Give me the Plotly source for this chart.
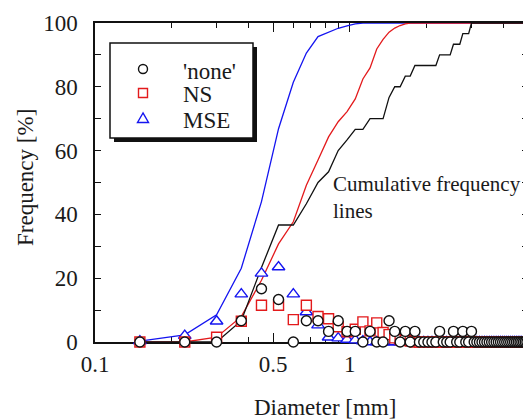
import numpy as np
import plotly.graph_objects as go

# ---------------- data ----------------
diameter_mm = [0.15, 0.225, 0.3, 0.375, 0.45, 0.525, 0.6, 0.675, 0.75, 0.825,
               0.9, 0.975, 1.05, 1.125, 1.2, 1.275, 1.35, 1.425, 1.5, 1.575,
               1.65, 1.725, 1.8, 1.875, 1.95, 2.025, 2.1, 2.175, 2.25, 2.325,
               2.4, 2.475, 2.55, 2.625, 2.7, 2.775, 2.85, 2.925, 3.0, 3.075,
               3.15, 3.225, 3.3, 3.375, 3.45, 3.525, 3.6, 3.675, 3.75, 3.825,
               3.9, 3.975, 4.05, 4.125, 4.2, 4.275, 4.35, 4.425, 4.5, 4.575,
               4.65, 4.725, 4.8, 4.875, 4.95]

freq_none = [0, 0, 0, 6.67, 16.67, 13.33, 0, 6.67, 6.67, 3.33,
             6.67, 3.33, 3.33, 0, 3.33, 0, 0, 6.67, 3.33, 0,
             3.33, 0, 3.33, 0, 0, 0, 0, 0, 3.33, 0,
             0, 0, 3.33, 0, 0, 3.33, 0, 0, 3.33, 0,
             0, 0, 0, 0, 0, 0, 0, 0, 0, 0,
             0, 0, 0, 0, 0, 0, 0, 0, 0, 0,
             0, 0, 0, 0, 0]

freq_ns = [0, 0, 1.5, 6.5, 11.5, 11.5, 7.0, 11.5, 8.0, 7.3,
           4.8, 3.2, 4.0, 6.3, 3.5, 6.0, 3.0, 2.3, 1.3, 0.8,
           0.5, 0.3, 0, 0, 0, 0, 0, 0, 0, 0,
           0, 0, 0, 0, 0, 0, 0, 0, 0, 0,
           0, 0, 0, 0, 0, 0, 0, 0, 0, 0,
           0, 0, 0, 0, 0, 0, 0, 0, 0, 0,
           0, 0, 0, 0, 0]

freq_mse = [0.3, 2.0, 6.5, 15.0, 21.5, 23.5, 15.0, 9.4, 5.3, 1.5,
            1.2, 0.8, 0.6, 0.3, 0, 0, 0, 0, 0, 0,
            0, 0, 0, 0, 0, 0, 0, 0, 0, 0,
            0, 0, 0, 0, 0, 0, 0, 0, 0, 0,
            0, 0, 0, 0, 0, 0, 0, 0, 0, 0,
            0, 0, 0, 0, 0, 0, 0, 0, 0, 0,
            0, 0, 0, 0, 0]

series_names = ["'none'", "NS", "MSE"]
x_tick_vals = [0.1, 0.5, 1, 5]
x_tick_text = ["0.1", "0.5", "1", "5"]
x_minor_vals = [0.2, 0.3, 0.4, 0.6, 0.7, 0.8, 0.9, 2, 3, 4]
y_tick_vals = [0, 20, 40, 60, 80, 100]


def cumulative(f):
    f = np.asarray(f, dtype=float)
    return np.cumsum(f) / f.sum() * 100.0


# ---------------- layout helpers ----------------
# the page body has an 8px margin, so the figure is drawn 8px smaller
OFF = 8
W, H = 531 - OFF, 419 - OFF
L, R, T = 95 - OFF, 3, 23 - OFF
PH = 342 - 23
B = H - T - PH
PW = W - L - R


def px(x):
    return (x - OFF - L) / PW


def py(y):
    return (T + PH - (y - OFF)) / PH


FONT = "Liberation Serif"
BLACK = "#111111"
TXT = "#1a1a1a"
RED = "#e31a1c"
BLUE = "#1414f0"

fig = go.Figure()

# cumulative lines
for f, col in [(freq_mse, BLUE), (freq_ns, RED), (freq_none, BLACK)]:
    fig.add_trace(go.Scatter(x=diameter_mm, y=cumulative(f), mode="lines",
                             line=dict(color=col, width=1.3),
                             showlegend=False, hoverinfo="skip"))

# frequency markers
for f, col, sym, size, name in [
        (freq_mse, BLUE, "triangle-up", 11, series_names[2]),
        (freq_ns, RED, "square", 10, series_names[1]),
        (freq_none, BLACK, "circle", 10, series_names[0])]:
    fig.add_trace(go.Scatter(x=diameter_mm, y=f, mode="markers", name=name,
                             marker=dict(symbol=sym, size=size, color="white",
                                         line=dict(color=col, width=1.4)),
                             cliponaxis=False, showlegend=False))

axis_common = dict(showline=True, linecolor=BLACK, linewidth=1.5,
                   mirror="ticks", ticks="inside", tickcolor=BLACK,
                   tickwidth=1.3, showgrid=False, zeroline=False,
                   layer="below traces", automargin=False,
                   tickfont=dict(family=FONT, size=23, color=TXT))

fig.update_xaxes(type="log", range=[np.log10(0.1), np.log10(5)],
                 tickmode="array", tickvals=x_tick_vals, ticktext=x_tick_text,
                 ticklen=9, ticklabelstandoff=1,
                 minor=dict(tickmode="array", tickvals=x_minor_vals,
                            ticks="inside", ticklen=5, tickcolor=BLACK,
                            tickwidth=1.3, showgrid=False),
                 **axis_common)
fig.update_yaxes(range=[0, 100], tickmode="array", tickvals=y_tick_vals,
                 ticklen=6, ticklabelstandoff=11,
                 minor=dict(dtick=10, ticks="inside", ticklen=6,
                            tickcolor=BLACK, tickwidth=1.3, showgrid=False),
                 **axis_common)

shapes = []
annotations = []

# legend box with drop shadow
shapes.append(dict(type="rect", xref="paper", yref="paper", layer="below",
                   x0=px(114), x1=px(257), y0=py(142), y1=py(47),
                   fillcolor=BLACK, line=dict(width=0)))
shapes.append(dict(type="rect", xref="paper", yref="paper", layer="below",
                   x0=px(110), x1=px(253), y0=py(138), y1=py(43),
                   fillcolor="white", line=dict(color=BLACK, width=1.5)))
# legend symbols
cx = 143
shapes.append(dict(type="circle", xref="paper", yref="paper", layer="above",
                   x0=px(cx - 4.5), x1=px(cx + 4.5), y0=py(69 + 4.5), y1=py(69 - 4.5),
                   line=dict(color=BLACK, width=1.4), fillcolor="white"))
shapes.append(dict(type="rect", xref="paper", yref="paper", layer="above",
                   x0=px(cx - 4.5), x1=px(cx + 4.5), y0=py(93 + 4.5), y1=py(93 - 4.5),
                   line=dict(color=RED, width=1.4), fillcolor="white"))
shapes.append(dict(type="path", xref="paper", yref="paper", layer="above",
                   path="M %f,%f L %f,%f L %f,%f Z" % (
                       px(cx), py(113), px(cx - 5.5), py(122.5),
                       px(cx + 5.5), py(122.5)),
                   line=dict(color=BLUE, width=1.4), fillcolor="white"))
for name, yc in zip(series_names, [71, 95, 120]):
    annotations.append(dict(text=name, xref="paper", yref="paper",
                            x=px(181), y=py(yc), xanchor="left", yanchor="middle",
                            showarrow=False,
                            font=dict(family=FONT, size=23, color=TXT)))

# text note
annotations.append(dict(text="Cumulative frequency<br>lines", xref="paper", yref="paper",
                        x=px(331), y=py(170), xanchor="left", yanchor="top",
                        align="left", showarrow=False,
                        font=dict(family=FONT, size=21, color=TXT)))
# axis titles
annotations.append(dict(text="Diameter [mm]", xref="paper", yref="paper",
                        x=px(325), y=py(407), xanchor="center", yanchor="middle",
                        showarrow=False,
                        font=dict(family=FONT, size=23, color=TXT)))
annotations.append(dict(text="Frequency [%]", xref="paper", yref="paper",
                        x=px(25), y=py(178), xanchor="center", yanchor="middle",
                        textangle=-90, showarrow=False,
                        font=dict(family=FONT, size=23, color=TXT)))

fig.update_layout(width=W, height=H, margin=dict(l=L, r=R, t=T, b=B, autoexpand=False),
                  paper_bgcolor="white", plot_bgcolor="white",
                  shapes=shapes, annotations=annotations, showlegend=False)

fig.write_html("out.html")
